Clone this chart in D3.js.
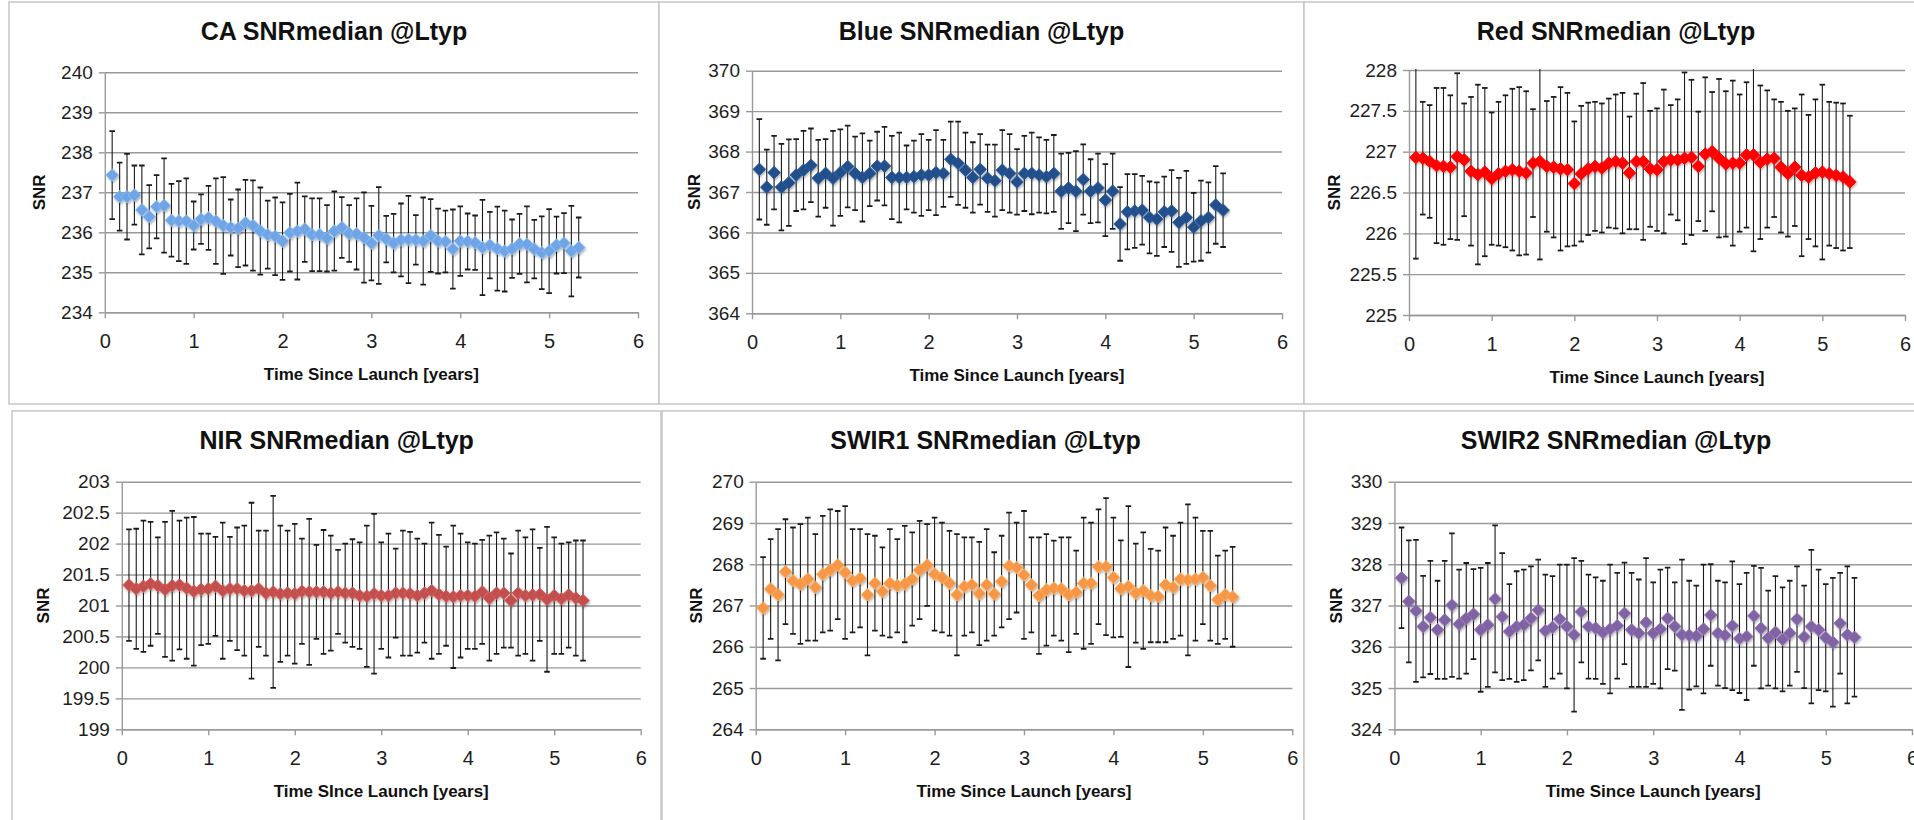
<!DOCTYPE html>
<html>
<head>
<meta charset="utf-8">
<script src="https://cdn.jsdelivr.net/npm/d3@7"></script>
<style>
  body { margin: 0; background: #fff; }
  svg { display: block; }
  text { font-family: "Liberation Sans Narrow", "Arial Narrow", "Liberation Sans", Arial, sans-serif; }
</style>
</head>
<body>
<svg id="chart" width="1914" height="820"></svg>
<script>
// ---------------- DATA ----------------
const years = [0.083,0.167,0.25,0.333,0.417,0.5,0.583,0.667,0.75,0.833,0.917,1.0,1.083,1.167,1.25,1.333,1.417,1.5,1.583,1.667,1.75,1.833,1.917,2.0,2.083,2.167,2.25,2.333,2.417,2.5,2.583,2.667,2.75,2.833,2.917,3.0,3.083,3.167,3.25,3.333,3.417,3.5,3.583,3.667,3.75,3.833,3.917,4.0,4.083,4.167,4.25,4.333,4.417,4.5,4.583,4.667,4.75,4.833,4.917,5.0,5.083,5.167,5.25,5.333];
const xTicks = [0,1,2,3,4,5,6];

const titles = ["CA SNRmedian @Ltyp","Blue SNRmedian @Ltyp","Red SNRmedian @Ltyp","NIR SNRmedian @Ltyp","SWIR1 SNRmedian @Ltyp","SWIR2 SNRmedian @Ltyp"];
const xTitles = ["Time Since Launch [years]","Time Since Launch [years]","Time Since Launch [years]","Time SInce Launch [years]","Time Since Launch [years]","Time Since Launch [years]"];
const yTitle = "SNR";

const caTicks = [234,235,236,237,238,239,240];
const caSnr = [237.43,236.89,236.89,236.93,236.56,236.39,236.64,236.67,236.30,236.28,236.28,236.17,236.33,236.36,236.28,236.17,236.12,236.10,236.24,236.17,236.03,235.94,235.90,235.78,235.99,236.03,236.08,235.94,235.94,235.85,236.03,236.12,235.97,235.96,235.87,235.73,235.92,235.83,235.73,235.81,235.82,235.81,235.78,235.92,235.78,235.77,235.58,235.78,235.77,235.74,235.62,235.68,235.59,235.53,235.59,235.71,235.70,235.58,235.49,235.53,235.68,235.73,235.53,235.62];
const caErr = [1.10,0.85,1.07,0.74,1.11,0.79,0.79,1.18,0.91,1.00,1.07,0.60,0.62,0.80,1.07,1.21,0.70,0.97,1.07,1.13,1.09,0.85,0.97,0.97,0.97,1.21,0.82,0.91,0.91,0.83,0.99,0.76,0.71,0.89,1.13,0.93,1.21,0.58,0.73,0.91,1.09,0.62,1.09,0.91,0.81,0.77,0.99,0.87,0.70,0.68,1.19,0.83,1.05,1.01,0.73,0.75,0.95,0.73,0.91,1.05,0.71,0.75,1.13,0.75];

const blueTicks = [364,365,366,367,368,369,370];
const blueSnr = [367.56,367.12,367.48,367.12,367.23,367.42,367.54,367.66,367.34,367.46,367.34,367.48,367.63,367.46,367.36,367.46,367.64,367.64,367.36,367.36,367.36,367.38,367.42,367.42,367.48,367.46,367.81,367.71,367.54,367.36,367.56,367.34,367.28,367.54,367.46,367.25,367.46,367.46,367.42,367.38,367.46,367.02,367.10,367.02,367.31,367.02,367.10,366.80,367.02,366.21,366.51,366.53,366.55,366.37,366.33,366.51,366.53,366.25,366.37,366.13,366.29,366.37,366.68,366.55];
const blueErr = [1.24,0.93,0.91,1.07,1.07,0.89,0.97,0.91,0.95,0.85,1.17,1.07,1.01,0.91,1.09,0.81,0.85,0.97,1.03,1.11,0.79,0.89,1.01,0.87,1.05,0.83,0.93,1.03,0.93,0.87,0.87,0.83,0.89,0.99,0.97,0.81,0.93,1.01,0.93,0.91,0.95,0.93,0.87,0.99,0.87,0.79,0.85,0.89,0.93,0.91,0.93,0.91,0.85,0.89,0.91,0.87,1.01,1.10,1.15,0.85,0.99,0.87,0.96,0.91];

const redTicks = [225,225.5,226,226.5,227,227.5,228];
const redSnr = [226.93,226.92,226.88,226.83,226.82,226.81,226.94,226.90,226.76,226.72,226.75,226.67,226.73,226.76,226.78,226.76,226.74,226.86,226.88,226.82,226.81,226.79,226.78,226.61,226.73,226.79,226.82,226.80,226.86,226.88,226.86,226.74,226.88,226.88,226.79,226.78,226.88,226.90,226.90,226.92,226.93,226.82,226.97,227.00,226.92,226.85,226.86,226.86,226.96,226.96,226.87,226.91,226.92,226.81,226.73,226.81,226.71,226.69,226.74,226.75,226.73,226.71,226.69,226.63];
const redErr = [1.24,0.69,0.69,0.95,0.96,0.88,1.02,0.69,0.91,1.10,1.03,0.81,0.88,0.93,0.99,1.03,1.00,0.66,1.20,0.80,0.86,1.00,0.94,0.76,0.83,0.81,0.79,0.79,0.79,0.82,0.86,0.69,0.83,0.96,0.71,0.75,0.88,0.67,0.74,1.05,0.95,0.67,0.94,0.73,0.97,0.89,1.01,0.84,0.89,1.18,0.94,0.84,0.72,0.80,0.77,0.72,0.99,0.76,0.90,1.07,0.88,0.89,0.90,0.81];

const nirTicks = [199,199.5,200,200.5,201,201.5,202,202.5,203];
const nirSnr = [201.33,201.27,201.31,201.35,201.32,201.26,201.32,201.33,201.28,201.23,201.26,201.27,201.31,201.24,201.27,201.27,201.24,201.24,201.27,201.20,201.22,201.19,201.20,201.19,201.23,201.22,201.22,201.22,201.20,201.22,201.20,201.20,201.16,201.15,201.19,201.16,201.16,201.20,201.20,201.19,201.16,201.20,201.24,201.18,201.15,201.14,201.16,201.16,201.15,201.22,201.12,201.20,201.20,201.08,201.20,201.16,201.17,201.18,201.10,201.16,201.11,201.17,201.12,201.08];
const nirErr = [0.90,0.97,1.06,1.00,0.78,1.09,1.21,1.04,1.14,1.20,0.90,0.89,0.80,1.10,0.84,0.99,1.05,1.42,0.94,1.01,1.55,1.10,1.01,1.13,0.85,1.18,0.76,1.00,0.93,0.68,0.80,0.87,0.86,1.14,1.29,0.86,1.00,0.72,1.01,1.00,0.92,0.80,1.10,0.96,0.80,1.15,1.00,0.86,0.85,0.84,1.01,0.98,0.88,0.76,1.01,0.94,1.06,0.75,1.17,0.94,0.89,0.85,0.93,0.97];

const swir1Ticks = [264,265,266,267,268,269,270];
const swir1Snr = [266.94,267.40,267.26,267.82,267.60,267.52,267.64,267.44,267.76,267.86,267.98,267.80,267.60,267.66,267.26,267.54,267.34,267.54,267.48,267.52,267.64,267.86,267.98,267.76,267.68,267.54,267.26,267.46,267.50,267.29,267.50,267.28,267.58,267.96,267.92,267.74,267.50,267.24,267.38,267.42,267.40,267.26,267.32,267.54,267.54,267.94,267.94,267.68,267.41,267.46,267.30,267.36,267.24,267.22,267.50,267.44,267.64,267.62,267.64,267.68,267.48,267.14,267.26,267.21];
const swir1Err = [1.23,1.21,1.59,1.27,1.29,1.45,1.49,1.29,1.41,1.47,1.31,1.61,1.25,1.19,1.47,1.15,1.07,1.31,1.13,1.41,1.13,1.19,0.99,1.37,1.33,1.27,1.47,1.19,1.15,1.25,1.35,1.01,1.11,1.29,1.09,1.55,1.15,1.41,1.35,1.15,1.25,1.39,1.01,1.59,1.47,1.39,1.66,1.45,1.17,1.95,1.20,1.41,1.13,1.11,1.39,1.25,1.37,1.83,1.49,1.13,1.33,1.07,1.07,1.21];

const swir2Ticks = [324,325,326,327,328,329,330];
const swir2Snr = [327.67,327.10,326.87,326.49,326.71,326.41,326.65,327.01,326.55,326.69,326.79,326.41,326.53,327.16,326.73,326.37,326.49,326.53,326.69,326.89,326.39,326.47,326.67,326.49,326.29,326.85,326.49,326.45,326.35,326.43,326.51,326.81,326.41,326.33,326.59,326.33,326.43,326.69,326.49,326.29,326.28,326.26,326.43,326.77,326.33,326.28,326.51,326.20,326.25,326.75,326.45,326.21,326.35,326.18,326.33,326.67,326.24,326.49,326.41,326.22,326.11,326.57,326.29,326.23];
const swir2Err = [1.22,1.48,1.72,1.23,1.37,1.19,1.43,1.74,1.32,1.34,1.09,1.50,1.50,1.78,1.54,1.15,1.34,1.34,1.26,1.22,1.36,1.24,1.32,1.50,1.86,1.23,1.26,1.23,1.25,1.56,1.28,1.23,1.38,1.30,1.56,1.23,1.44,1.23,1.07,1.82,1.32,1.22,1.56,1.23,1.27,1.28,1.56,1.32,1.54,1.21,1.46,1.15,1.36,1.26,1.27,1.28,1.24,1.86,1.46,1.30,1.56,1.22,1.66,1.44];

// ---------------- LAYOUT / STYLE ----------------
const seriesList = [
  { snr: caSnr,    err: caErr,    ticks: caTicks },
  { snr: blueSnr,  err: blueErr,  ticks: blueTicks },
  { snr: redSnr,   err: redErr,   ticks: redTicks },
  { snr: nirSnr,   err: nirErr,   ticks: nirTicks },
  { snr: swir1Snr, err: swir1Err, ticks: swir1Ticks },
  { snr: swir2Snr, err: swir2Err, ticks: swir2Ticks }
];
const colors = ["#70a4e4", "#23508a", "#ff0000", "#c0504d", "#f79646", "#8064a2"];
const layouts = [
  { box: [9, 2, 650, 402],     titleX: 334,   yLabX: 39,   x0: 104.8,  x6: 638,    yTop: 72.3,  yBot: 312.3 },
  { box: [659, 2, 645, 402],   titleX: 981.5, yLabX: 694,  x0: 752,    x6: 1282,   yTop: 70.7,  yBot: 313.3 },
  { box: [1304, 2, 640, 402],  titleX: 1616,  yLabX: 1334, x0: 1409,   x6: 1905,   yTop: 70,    yBot: 315 },
  { box: [12, 411, 649, 420],  titleX: 336.7, yLabX: 43,   x0: 121.8,  x6: 640.7,  yTop: 481.7, yBot: 729.3 },
  { box: [662, 411, 642, 420], titleX: 985.6, yLabX: 696,  x0: 755.7,  x6: 1292.3, yTop: 481.7, yBot: 729.3 },
  { box: [1304, 411, 640, 420],titleX: 1616,  yLabX: 1336, x0: 1394.4, x6: 1912,   yTop: 481.7, yBot: 729.3 }
];

const svg = d3.select("#chart");
svg.append("rect").attr("width", 1914).attr("height", 820).attr("fill", "#fff");

const defs = svg.append("defs");
const flt = defs.append("filter").attr("id", "shadow").attr("x", "-50%").attr("y", "-50%").attr("width", "200%").attr("height", "200%");
flt.append("feDropShadow").attr("dx", 1).attr("dy", 1.5).attr("stdDeviation", 1).attr("flood-color", "#000").attr("flood-opacity", 0.3);

const gridColor = "#999999";
const diamond = d3.symbol().type(d3.symbolSquare).size(80);
const tickFont = "'Liberation Sans Narrow','Arial Narrow','Liberation Sans',Arial,sans-serif";

seriesList.forEach((s, i) => {
  const L = layouts[i];
  const g = svg.append("g");

  g.append("rect")
    .attr("x", L.box[0]).attr("y", L.box[1])
    .attr("width", L.box[2]).attr("height", L.box[3])
    .attr("fill", "#fff").attr("stroke", "#c6c6c6").attr("stroke-width", 1.5);

  const x = d3.scaleLinear().domain([0, 6]).range([L.x0, L.x6]);
  const y = d3.scaleLinear().domain([s.ticks[0], s.ticks[s.ticks.length - 1]]).range([L.yBot, L.yTop]);

  // horizontal gridlines
  g.append("g")
    .attr("transform", `translate(${L.x0},0)`)
    .call(d3.axisLeft(y).tickValues(s.ticks).tickSize(-(L.x6 - L.x0)).tickFormat(""))
    .call(a => a.select(".domain").remove())
    .call(a => a.selectAll("line").attr("stroke", gridColor).attr("stroke-width", 1.4));

  // y axis
  g.append("g")
    .attr("transform", `translate(${L.x0},0)`)
    .call(d3.axisLeft(y).tickValues(s.ticks).tickSize(6).tickPadding(6).tickSizeOuter(0).tickFormat(d3.format("~g")))
    .call(a => a.select(".domain").attr("stroke", gridColor).attr("stroke-width", 1.4))
    .call(a => a.selectAll("line").attr("stroke", gridColor).attr("stroke-width", 1.4))
    .call(a => a.selectAll("text").attr("font-size", 19).attr("fill", "#1e1e1e").attr("font-family", tickFont));

  // x axis
  g.append("g")
    .attr("transform", `translate(0,${L.yBot})`)
    .call(d3.axisBottom(x).tickValues(xTicks).tickSize(6).tickPadding(16).tickSizeOuter(0).tickFormat(d3.format("d")))
    .call(a => a.select(".domain").attr("stroke", gridColor).attr("stroke-width", 1.4))
    .call(a => a.selectAll("line").attr("stroke", gridColor).attr("stroke-width", 1.4))
    .call(a => a.selectAll("text").attr("font-size", 20).attr("fill", "#1e1e1e").attr("font-family", tickFont));

  // titles
  g.append("text")
    .attr("x", L.titleX).attr("y", L.box[1] + 38)
    .attr("text-anchor", "middle").attr("font-weight", "bold").attr("font-size", 25).attr("fill", "#111")
    .text(titles[i]);
  g.append("text")
    .attr("x", (L.x0 + L.x6) / 2).attr("y", L.yBot + 68)
    .attr("text-anchor", "middle").attr("font-weight", "bold").attr("font-size", 17).attr("fill", "#111")
    .text(xTitles[i]);
  g.append("text")
    .attr("transform", `translate(${L.yLabX},${(L.yTop + L.yBot) / 2}) rotate(-90)`)
    .attr("text-anchor", "middle").attr("dominant-baseline", "central")
    .attr("font-weight", "bold").attr("font-size", 17).attr("fill", "#111")
    .text(yTitle);

  // clip for error bars
  const clipId = "clip" + i;
  defs.append("clipPath").attr("id", clipId)
    .append("rect").attr("x", L.x0 - 10).attr("y", L.yTop - 1)
    .attr("width", L.x6 - L.x0 + 20).attr("height", L.yBot - L.yTop + 2);

  const pts = years.map((t, k) => ({ t, v: s.snr[k], e: s.err[k] }));

  const eb = g.append("g").attr("clip-path", `url(#${clipId})`)
    .attr("stroke", "#1a1a1a").attr("stroke-width", 1.1);
  eb.selectAll("line.v").data(pts).join("line").attr("class", "v")
    .attr("x1", d => x(d.t)).attr("x2", d => x(d.t))
    .attr("y1", d => y(d.v - d.e)).attr("y2", d => y(d.v + d.e));
  eb.selectAll("line.top").data(pts).join("line").attr("class", "top")
    .attr("x1", d => x(d.t) - 2.8).attr("x2", d => x(d.t) + 2.8)
    .attr("y1", d => y(d.v + d.e)).attr("y2", d => y(d.v + d.e))
    .attr("stroke-width", 1.8);
  eb.selectAll("line.bot").data(pts).join("line").attr("class", "bot")
    .attr("x1", d => x(d.t) - 2.8).attr("x2", d => x(d.t) + 2.8)
    .attr("y1", d => y(d.v - d.e)).attr("y2", d => y(d.v - d.e))
    .attr("stroke-width", 1.8);

  // markers
  const c = d3.color(colors[i]);
  g.append("g").attr("filter", "url(#shadow)")
    .selectAll("path").data(pts).join("path")
    .attr("d", diamond)
    .attr("transform", d => `translate(${x(d.t)},${y(d.v)}) rotate(45)`)
    .attr("fill", colors[i])
    .attr("stroke", c.brighter(0.4))
    .attr("stroke-width", 0.8);
});
</script>
</body>
</html>
